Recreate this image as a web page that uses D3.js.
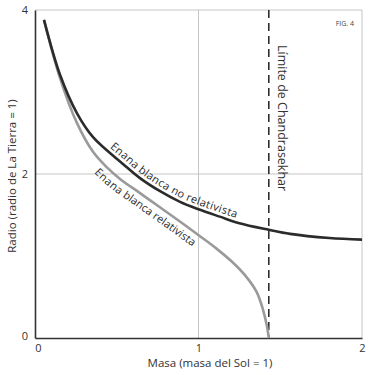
<!DOCTYPE html>
<html>
<head>
<meta charset="utf-8">
<script src="https://cdn.jsdelivr.net/npm/d3@7"></script>
<style>
  body { margin: 0; background: #fff; }
  svg { font-family: "Open Sans", sans-serif; }
</style>
</head>
<body>
<div id="chart"></div>
<script>
// masa (masa del Sol) y radio (radio de la Tierra)
const noRelMass   = [0.055, 0.153, 0.257, 0.355, 0.54, 0.642, 0.765, 0.887, 1.0, 1.13, 1.25, 1.43, 1.56, 1.80, 2.0];
const noRelRadius = [3.88, 3.21, 2.74, 2.45, 2.12, 1.95, 1.79, 1.66, 1.57, 1.48, 1.40, 1.32, 1.27, 1.22, 1.20];
const relMass   = [0.055, 0.153, 0.257, 0.355, 0.44, 0.52, 0.64, 0.76, 0.88, 1.003, 1.11, 1.21, 1.295, 1.356, 1.394, 1.419, 1.43];
const relRadius = [3.88, 3.17, 2.62, 2.27, 2.08, 1.94, 1.77, 1.60, 1.43, 1.25, 1.09, 0.92, 0.74, 0.56, 0.35, 0.14, 0];
const chandrasekhar = 1.43;
const xTicks = [0, 1, 2];
const yTicks = [0, 2, 4];

const width = 380, height = 375;
let svg = d3.select("#chart").append("svg")
  .attr("width", width)
  .attr("height", height);

let x = d3.scaleLinear().domain([0, 2]).range([35, 362]);
let y = d3.scaleLinear().domain([0, 4]).range([338, 10]);

// rejilla y marco claro
let grid = svg.append("g").attr("stroke", "#b8b8b8").attr("stroke-width", 0.8).attr("fill", "none");
grid.append("line").attr("x1", x(0)).attr("x2", x(2)).attr("y1", y(4)).attr("y2", y(4));
grid.append("line").attr("x1", x(2)).attr("x2", x(2)).attr("y1", y(4)).attr("y2", y(0));
grid.append("line").attr("x1", x(0)).attr("x2", x(2)).attr("y1", y(2)).attr("y2", y(2));
grid.append("line").attr("x1", x(1)).attr("x2", x(1)).attr("y1", y(4)).attr("y2", y(0));

// ejes
let xAxis = svg.append("g")
  .attr("transform", "translate(0," + y(0) + ")")
  .call(d3.axisBottom(x).tickValues(xTicks).tickSize(0).tickPadding(6).tickFormat(d3.format("d")));
let yAxis = svg.append("g")
  .attr("transform", "translate(" + x(0) + ",0)")
  .call(d3.axisLeft(y).tickValues(yTicks).tickSize(0).tickPadding(7).tickFormat(d3.format("d")));
[xAxis, yAxis].forEach(function(a) {
  a.select(".domain").attr("stroke", "#333").attr("stroke-width", 1.6);
  a.selectAll("text").attr("fill", "#333").style("font-size", "11px").style("font-family", "Open Sans, sans-serif");
});
xAxis.selectAll(".tick text").filter(function(d) { return d === 0; }).attr("dx", "3");
yAxis.selectAll(".tick text").filter(function(d) { return d === 0; }).attr("dy", "0.1em");

// límite de Chandrasekhar
svg.append("line")
  .attr("x1", x(chandrasekhar)).attr("x2", x(chandrasekhar))
  .attr("y1", y(4)).attr("y2", y(0))
  .attr("stroke", "#222").attr("stroke-width", 1.5)
  .attr("stroke-dasharray", "8,5");

svg.append("text")
  .attr("transform", "translate(" + (x(chandrasekhar) + 9) + ",45) rotate(90)")
  .attr("fill", "#333")
  .style("font-size", "12.5px")
  .text("Límite de Chandrasekhar");

// curvas
let line = d3.line()
  .x(function(d) { return x(d[0]); })
  .y(function(d) { return y(d[1]); })
  .curve(d3.curveCatmullRom.alpha(0.5));

let relData = relMass.map(function(m, i) { return [m, relRadius[i]]; });
let noRelData = noRelMass.map(function(m, i) { return [m, noRelRadius[i]]; });

let relPath = svg.append("path")
  .datum(relData)
  .attr("id", "rel")
  .attr("d", line)
  .attr("fill", "none")
  .attr("stroke", "#9a9a9a")
  .attr("stroke-width", 2.6);

let noRelPath = svg.append("path")
  .datum(noRelData)
  .attr("id", "norel")
  .attr("d", line)
  .attr("fill", "none")
  .attr("stroke", "#2b2b2b")
  .attr("stroke-width", 2.6);

function offsetAt(pathNode, px) {
  let total = pathNode.getTotalLength();
  for (let l = 0; l < total; l += 0.5) {
    if (pathNode.getPointAtLength(l).x >= px) return l;
  }
  return 0;
}

svg.append("text")
  .attr("fill", "#2b2b2b")
  .attr("dy", -4)
  .style("font-size", "11px")
  .style("letter-spacing", "0.4px")
  .append("textPath")
  .attr("href", "#norel")
  .attr("startOffset", offsetAt(noRelPath.node(), 107))
  .text("Enana blanca no relativista");

svg.append("text")
  .attr("fill", "#2b2b2b")
  .attr("dy", 13)
  .style("font-size", "11px")
  .append("textPath")
  .attr("href", "#rel")
  .attr("startOffset", offsetAt(relPath.node(), 103))
  .text("Enana blanca relativista");

// títulos de ejes
svg.append("text")
  .attr("x", 210).attr("y", 367)
  .attr("text-anchor", "middle")
  .attr("fill", "#333")
  .style("font-size", "11.5px")
  .text("Masa (masa del Sol = 1)");

svg.append("text")
  .attr("transform", "translate(16,176) rotate(-90)")
  .attr("text-anchor", "middle")
  .attr("fill", "#333")
  .style("font-size", "11.5px")
  .text("Radio (radio de La Tierra = 1)");

svg.append("text")
  .attr("x", 354).attr("y", 26)
  .attr("text-anchor", "end")
  .attr("fill", "#444")
  .style("font-size", "7px")
  .text("FIG. 4");
</script>
</body>
</html>
